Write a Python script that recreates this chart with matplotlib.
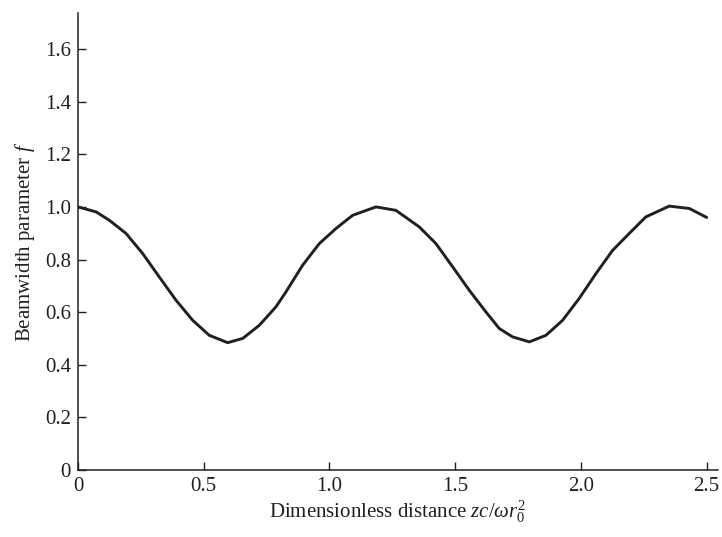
import matplotlib
matplotlib.use("Agg")
import matplotlib.pyplot as plt

# curve (x = zc/(omega r0^2), y = beamwidth parameter f)
dist = [0.0, 0.072, 0.125, 0.191, 0.257, 0.323, 0.39, 0.456, 0.522, 0.595, 0.655,
        0.721, 0.787, 0.827, 0.893, 0.96, 1.026, 1.092, 1.185, 1.264, 1.357, 1.423,
        1.49, 1.556, 1.622, 1.675, 1.728, 1.795, 1.861, 1.927, 1.993, 2.06, 2.126,
        2.192, 2.258, 2.351, 2.431, 2.5]
beam_f = [1.0, 0.981, 0.949, 0.899, 0.823, 0.734, 0.645, 0.569, 0.512, 0.484, 0.5,
          0.55, 0.62, 0.677, 0.778, 0.861, 0.918, 0.968, 1.0, 0.987, 0.924, 0.861,
          0.772, 0.683, 0.601, 0.538, 0.506, 0.487, 0.512, 0.569, 0.652, 0.747, 0.835,
          0.899, 0.962, 1.003, 0.994, 0.96]

xticks = [0, 0.5, 1.0, 1.5, 2.0, 2.5]
xtick_labels = ["0", "0.5", "1.0", "1.5", "2.0", "2.5"]
yticks = [0, 0.2, 0.4, 0.6, 0.8, 1.0, 1.2, 1.4, 1.6]
ytick_labels = ["0", "0.2", "0.4", "0.6", "0.8", "1.0", "1.2", "1.4", "1.6"]

plt.rcParams["font.family"] = ["Liberation Serif", "DejaVu Serif"]
plt.rcParams["mathtext.fontset"] = "custom"
plt.rcParams["mathtext.rm"] = "Liberation Serif"
plt.rcParams["mathtext.it"] = "Liberation Serif:italic"

INK = "#231f20"
fig = plt.figure(figsize=(7.22, 5.37), dpi=100)
ax = fig.add_axes([78 / 722, 1 - 470 / 537, 640 / 722, 457 / 537])

ax.plot(dist, beam_f, color=INK, lw=2.1, solid_capstyle="round", solid_joinstyle="round")

ax.set_xlim(0, 2.545)
ax.set_ylim(0, 1.737)
ax.set_xticks(xticks)
ax.set_xticklabels(xtick_labels)
ax.set_yticks(yticks)
ax.set_yticklabels(ytick_labels)
ax.tick_params(direction="in", length=6, width=1.0, color=INK, labelsize=15,
               labelcolor=INK, pad=5)
for s in ("top", "right"):
    ax.spines[s].set_visible(False)
for s in ("left", "bottom"):
    ax.spines[s].set_color(INK)
    ax.spines[s].set_linewidth(1.1)

ax.set_xlabel(r"Dimensionless distance $zc/\omega r_0^2$", fontsize=15, color=INK, labelpad=2)
ax.set_ylabel(r"Beamwidth parameter $f$", fontsize=15, color=INK, labelpad=6)

fig.savefig("out.png", dpi=100)
